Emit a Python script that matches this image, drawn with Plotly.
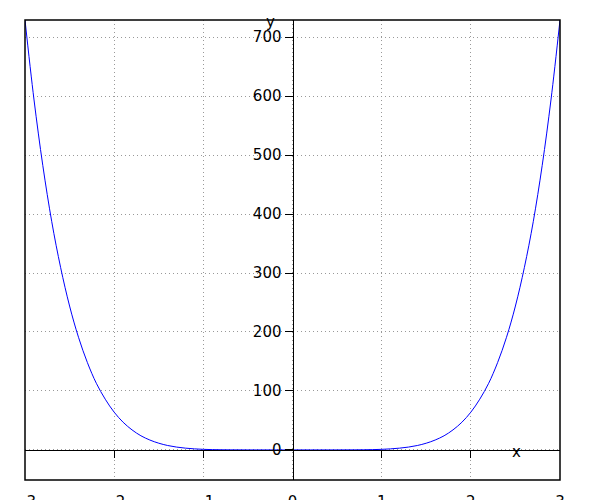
import plotly.graph_objects as go

# Curve values
x_vals = [-3.0, -2.9, -2.8, -2.7, -2.6, -2.5, -2.4, -2.3, -2.2, -2.1, -2.0,
          -1.9, -1.8, -1.7, -1.6, -1.5, -1.4, -1.3, -1.2, -1.1, -1.0,
          -0.9, -0.8, -0.7, -0.6, -0.5, -0.4, -0.3, -0.2, -0.1, 0.0,
          0.1, 0.2, 0.3, 0.4, 0.5, 0.6, 0.7, 0.8, 0.9, 1.0,
          1.1, 1.2, 1.3, 1.4, 1.5, 1.6, 1.7, 1.8, 1.9, 2.0,
          2.1, 2.2, 2.3, 2.4, 2.5, 2.6, 2.7, 2.8, 2.9, 3.0]
y_vals = [729, 595, 482, 387, 309, 244, 191, 148, 113, 86, 64,
          47, 34, 24, 16.8, 11.4, 7.5, 4.8, 3.0, 1.8, 1.0,
          0.53, 0.26, 0.12, 0.05, 0.016, 0.004, 0.001, 0.0, 0.0, 0.0,
          0.0, 0.0, 0.001, 0.004, 0.016, 0.05, 0.12, 0.26, 0.53, 1.0,
          1.8, 3.0, 4.8, 7.5, 11.4, 16.8, 24, 34, 47, 64,
          86, 113, 148, 191, 244, 309, 387, 482, 595, 729]

x_ticks = [-3, -2, -1, 0, 1, 2, 3]
x_axis_ticks = [-2, -1, 1, 2]
y_ticks = [0, 100, 200, 300, 400, 500, 600, 700]

x_range = [-3, 3]
y_range = [-51, 729]

FONT = "DejaVu Sans"
fig = go.Figure()
fig.add_trace(go.Scatter(x=x_vals, y=y_vals, mode="lines",
                         line=dict(color="#0000ff", width=1, shape="spline"),
                         showlegend=False, hoverinfo="skip"))
fig.add_trace(go.Scatter(x=[None], y=[None], xaxis="x2", yaxis="y",
                         mode="lines", showlegend=False, hoverinfo="skip"))

y0_pos = (0 - y_range[0]) / (y_range[1] - y_range[0])
x0_pos = (0 - x_range[0]) / (x_range[1] - x_range[0])

grid = dict(showgrid=True, gridcolor="#999999", gridwidth=1, griddash="1px,3px")

fig.update_layout(
    width=600, height=500,
    margin=dict(l=17, r=48, t=12, b=28, autoexpand=False),
    paper_bgcolor="white", plot_bgcolor="white",
    font=dict(family=FONT, size=15, color="black"),
    xaxis=dict(range=x_range, tickvals=x_ticks, ticks="outside", ticklen=8,
               tickcolor="rgba(0,0,0,0)", showline=False, zeroline=False,
               automargin=False, tickfont=dict(size=15), **grid),
    xaxis2=dict(range=x_range, overlaying="x", anchor="free", position=y0_pos,
                tickvals=x_axis_ticks, ticks="outside", ticklen=7, tickwidth=1,
                tickcolor="black", showticklabels=False, showline=True,
                linecolor="black", linewidth=1, showgrid=False, zeroline=False,
                automargin=False),
    yaxis=dict(range=y_range, tickvals=y_ticks, anchor="free", position=x0_pos,
               side="left", ticks="outside", ticklen=8, tickwidth=1,
               tickcolor="black", showline=True, linecolor="black", linewidth=1,
               zeroline=False, automargin=False, tickfont=dict(size=15), **grid),
    shapes=[dict(type="rect", xref="paper", yref="paper", x0=0, y0=0, x1=1, y1=1,
                 line=dict(color="black", width=1.5))],
    annotations=[
        dict(text="y", xref="paper", yref="paper", x=(270 - 25) / 535, y=0.995,
             showarrow=False, xanchor="center", yanchor="middle",
             font=dict(size=15)),
        dict(text="x", xref="paper", yref="paper", x=(516.7 - 25) / 535, y=0.06,
             showarrow=False, xanchor="center", yanchor="middle",
             font=dict(size=15)),
    ],
)

fig.write_html("out.html")
